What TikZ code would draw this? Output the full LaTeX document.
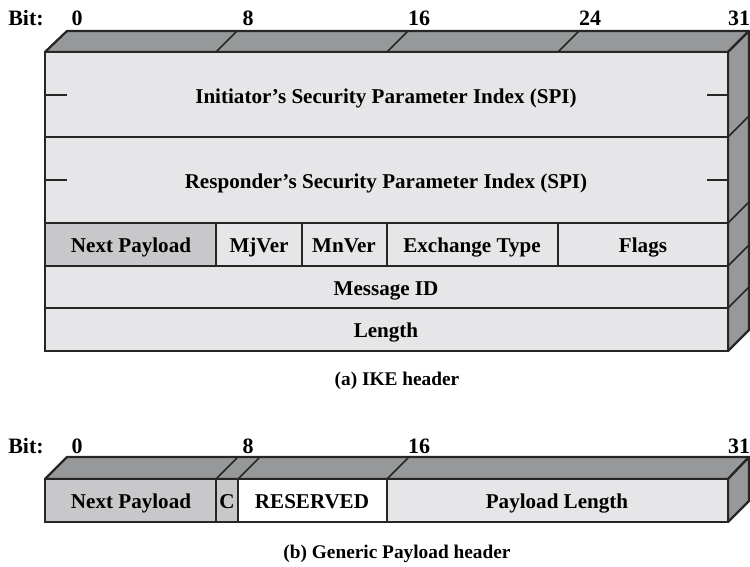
\documentclass[tikz,border=0pt]{standalone}
\usepackage{fontspec}
\setmainfont{Liberation Serif}
\definecolor{facegray}{HTML}{E6E6E8}
\definecolor{keygray}{HTML}{C8C8CA}
\definecolor{sidegray}{HTML}{96989A}
\tikzset{
  field/.style={draw=black!85, line width=0.9pt},
  outline/.style={draw=black!85, line width=1.3pt, line join=round},
  lbl/.style={font=\bfseries\fontsize{12}{14}\selectfont, inner sep=0pt, text height=8pt, text depth=0pt},
  bitlbl/.style={font=\bfseries\fontsize{12.5}{14}\selectfont, inner sep=0pt, anchor=base},
  caption/.style={font=\bfseries\fontsize{11}{13}\selectfont, inner sep=0pt, text height=7.5pt, text depth=0pt},
}

\begin{document}
\begin{tikzpicture}[x=0.02cm, y=-0.02cm]
    \useasboundingbox (0,0) rectangle (750,567);

    % (a) IKE header
    \draw[outline, fill=sidegray] (45,52) -- (67,31) -- (749,31) -- (728,52) -- cycle;
    \draw[outline, fill=sidegray] (728,52) -- (749,31) -- (749,330) -- (728,351) -- cycle;
    \foreach \x in {216,387,558} \draw[field] (\x,52) -- (\x+21,31);
    \foreach \y in {137,223,266,308} \draw[field] (728,\y) -- (749,\y-21);

    \draw[field, fill=facegray] (45,52) rectangle (728,137);
    \draw[field, fill=facegray] (45,137) rectangle (728,223);
    \draw[field, fill=keygray] (45,223) rectangle (216,266);
    \draw[field, fill=facegray] (216,223) rectangle (302,266);
    \draw[field, fill=facegray] (302,223) rectangle (387,266);
    \draw[field, fill=facegray] (387,223) rectangle (558,266);
    \draw[field, fill=facegray] (558,223) rectangle (728,266);
    \draw[field, fill=facegray] (45,266) rectangle (728,308);
    \draw[field, fill=facegray] (45,308) rectangle (728,351);
    \draw[outline] (45,52) rectangle (728,351);

    \foreach \y in {95,180} {
        \draw[field] (45,\y) -- (67,\y);
        \draw[field] (707,\y) -- (728,\y);
    }

    \node[bitlbl] (bita) at (26,26) {Bit:};
    \node[bitlbl] (bita0) at (77,26) {0};
    \node[bitlbl] (bita8) at (248,26) {8};
    \node[bitlbl] (bita16) at (419,26) {16};
    \node[bitlbl] (bita24) at (590,26) {24};
    \node[bitlbl] (bita31) at (739,26) {31};

    \node[lbl] (ispi) at (386,96) {Initiator’s Security Parameter Index (SPI)};
    \node[lbl] (rspi) at (386,181) {Responder’s Security Parameter Index (SPI)};
    \node[lbl] (nexta) at (131,245) {Next Payload};
    \node[lbl] (mjver) at (259,245) {MjVer};
    \node[lbl] (mnver) at (344,245) {MnVer};
    \node[lbl] (xtype) at (472,245) {Exchange Type};
    \node[lbl] (flags) at (643,245) {Flags};
    \node[lbl] (msgid) at (386,288) {Message ID};
    \node[lbl] (length) at (386,330) {Length};
    \node[caption] (capa) at (397,379) {(a) IKE header};

    % (b) Generic Payload header
    \draw[outline, fill=sidegray] (45,479) -- (67,457) -- (749,457) -- (728,479) -- cycle;
    \draw[outline, fill=sidegray] (728,479) -- (749,457) -- (749,501) -- (728,522) -- cycle;
    \foreach \x in {216,238,387} \draw[field] (\x,479) -- (\x+21,458);

    \draw[field, fill=keygray] (45,479) rectangle (216,522);
    \draw[field, fill=keygray] (216,479) rectangle (238,522);
    \draw[field, fill=white] (238,479) rectangle (387,522);
    \draw[field, fill=facegray] (387,479) rectangle (728,522);
    \draw[outline] (45,479) rectangle (728,522);

    \node[bitlbl] (bitb) at (26,453) {Bit:};
    \node[bitlbl] (bitb0) at (77,453) {0};
    \node[bitlbl] (bitb8) at (248,453) {8};
    \node[bitlbl] (bitb16) at (419,453) {16};
    \node[bitlbl] (bitb31) at (739,453) {31};

    \node[lbl] (nextb) at (131,501) {Next Payload};
    \node[lbl] (cbit) at (227,501) {C};
    \node[lbl] (resvd) at (312,501) {RESERVED};
    \node[lbl] (plen) at (557,501) {Payload Length};
    \node[caption] (capb) at (397,552) {(b) Generic Payload header};
\end{tikzpicture}
\end{document}
